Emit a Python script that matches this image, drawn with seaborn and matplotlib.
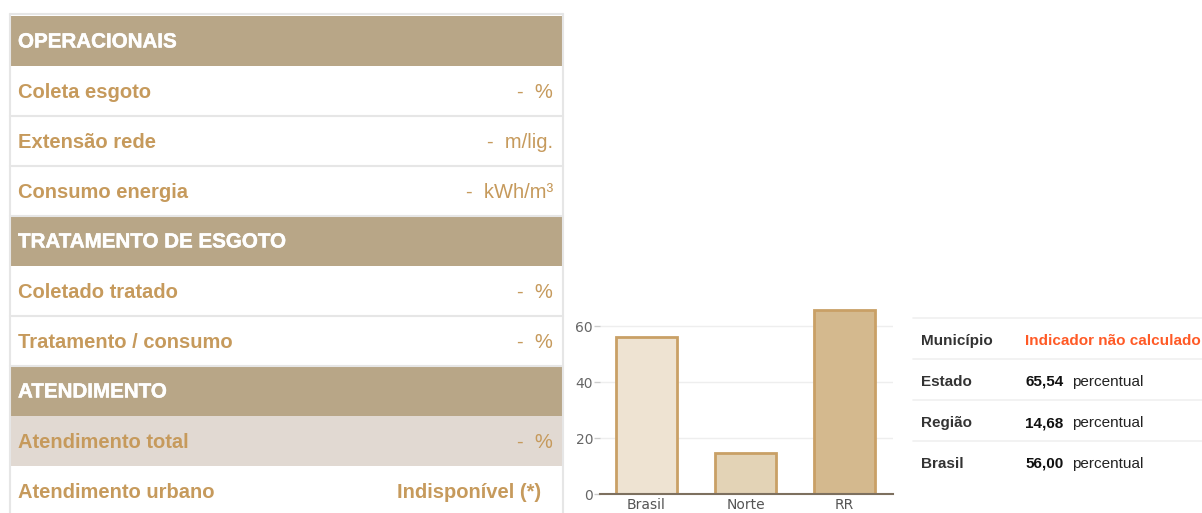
import numpy as np
import pandas as pd
import matplotlib
matplotlib.use("Agg")
import matplotlib.pyplot as plt
import matplotlib.patheffects as pe
import seaborn as sns
from matplotlib.patches import Rectangle


# Left table contents
op_labels = ["Coleta esgoto", "Extensão rede", "Consumo energia"]
op_values = ["-  %", "-  m/lig.", "-  kWh/m³"]
trat_labels = ["Coletado tratado", "Tratamento / consumo"]
trat_values = ["-  %", "-  %"]
atend_labels = ["Atendimento total", "Atendimento urbano"]
atend_values = ["-  %", "Indisponível (*)"]
headers = ["OPERACIONAIS", "TRATAMENTO DE ESGOTO", "ATENDIMENTO"]

# Bar chart data
bar_labels = ["Brasil", "Norte", "RR"]
bar_values = [56.00, 14.68, 65.54]
bar_colors = ["#eee3d2", "#e3d3b6", "#d4b98e"]

# Right table contents
comp_labels = ["Município", "Estado", "Região", "Brasil"]
comp_values = ["Indicador não calculado", "65,54", "14,68", "56,00"]
comp_unit = "percentual"


sns.set_style("white")
plt.rcParams['font.family'] = ['Liberation Sans', 'DejaVu Sans']

W, H = 1202, 513
fig = plt.figure(figsize=(W / 100, H / 100), dpi=100)

# Overlay axes in pixel coordinates for the tables
ax0 = fig.add_axes([0, 0, 1, 1])
ax0.set_xlim(0, W)
ax0.set_ylim(H, 0)
ax0.axis("off")

header_bg = "#b8a687"
label_col = "#c69a5c"
line_col = "#e6e6e6"
row_h = 50
top = 16
left, right = 10, 563
fs = 14.5

# table borders
ax0.plot([left, left], [14, H], color=line_col, lw=1.5)
ax0.plot([right, right], [14, H], color=line_col, lw=1.5)
ax0.plot([left, right], [14, 14], color=line_col, lw=1.5)

sections = [(headers[0], op_labels, op_values),
            (headers[1], trat_labels, trat_values),
            (headers[2], atend_labels, atend_values)]

y = top
for header, labels, values in sections:
    ax0.add_patch(Rectangle((left, y), right - left, row_h, color=header_bg, lw=0))
    ax0.text(left + 8, y + row_h / 2 + 1, header, color="white", fontsize=fs + 0.3,
             fontweight="bold", va="center", ha="left",
             path_effects=[pe.withStroke(linewidth=0.35, foreground="white")])
    y += row_h
    for lab, val in zip(labels, values):
        if lab == "Atendimento total":
            ax0.add_patch(Rectangle((left, y), right - left, row_h, color="#e1d9d2", lw=0))
        else:
            ax0.plot([left, right], [y + row_h, y + row_h], color=line_col, lw=1.5)
        ax0.text(left + 8, y + row_h / 2 + 1, lab, color=label_col, fontsize=fs,
                 fontweight="bold", va="center", ha="left")
        indisp = val.startswith("Indispon")
        xr = right - 22 if indisp else right - 10
        ax0.text(xr, y + row_h / 2 + 1, val, color=label_col, fontsize=fs,
                 fontweight="bold" if indisp else "normal",
                 va="center", ha="right")
        y += row_h

# Right comparison table
rt_left, rt_right = 913, W
rt_top = 318
rt_h = 41
fs2 = 11
ax0.plot([rt_left, rt_right], [rt_top, rt_top], color="#f0f0f0", lw=1.2)
for i, (lab, val) in enumerate(zip(comp_labels, comp_values)):
    yc = rt_top + i * rt_h + rt_h / 2 + 1
    if i < len(comp_labels) - 1:
        ax0.plot([rt_left, rt_right], [rt_top + (i + 1) * rt_h] * 2, color="#f0f0f0", lw=1.2)
    ax0.text(921, yc, lab, color="#333333", fontsize=fs2, fontweight="bold",
             va="center_baseline")
    if i == 0:
        ax0.text(1025, yc, val, color="#ff5a26", fontsize=fs2, fontweight="bold",
                 va="center_baseline")
    else:
        ax0.text(1025, yc, val, color="#111111", fontsize=fs2, fontweight="bold",
                 va="center_baseline")
        ax0.text(1072, yc, comp_unit, color="#222222", fontsize=fs2,
                 va="center_baseline")

# Bar chart
bar_df = pd.DataFrame({"Local": bar_labels, "Valor": bar_values})
ax = fig.add_axes([600 / W, (H - 494) / H, 293 / W, 196 / H])
ax.patch.set_alpha(0)
sns.barplot(data=bar_df, x="Local", y="Valor", hue="Local", palette=bar_colors,
            saturation=1, edgecolor="#c9a066", linewidth=2, width=0.61,
            legend=False, ax=ax)
ax.set_xlim(-0.47, 2.49)
ax.set_ylim(0, 70)
ax.set_yticks([0, 20, 40, 60])
ax.yaxis.grid(True, color="#eeeeee", lw=1)
ax.set_axisbelow(True)
for s in ["top", "right", "left"]:
    ax.spines[s].set_visible(False)
ax.spines["bottom"].set_color("#7d705f")
ax.spines["bottom"].set_linewidth(1.5)
ax.tick_params(axis="y", length=4, width=1, color="#cccccc",
               labelsize=10, pad=1, left=True, labelcolor="#666666")
ax.tick_params(axis="x", length=0, labelsize=10, labelcolor="#555555", pad=3)
for t in ax.get_xticklabels() + ax.get_yticklabels():
    t.set_fontfamily("DejaVu Sans")
ax.set_xlabel("")
ax.set_ylabel("")

fig.savefig("out.png", dpi=100)
